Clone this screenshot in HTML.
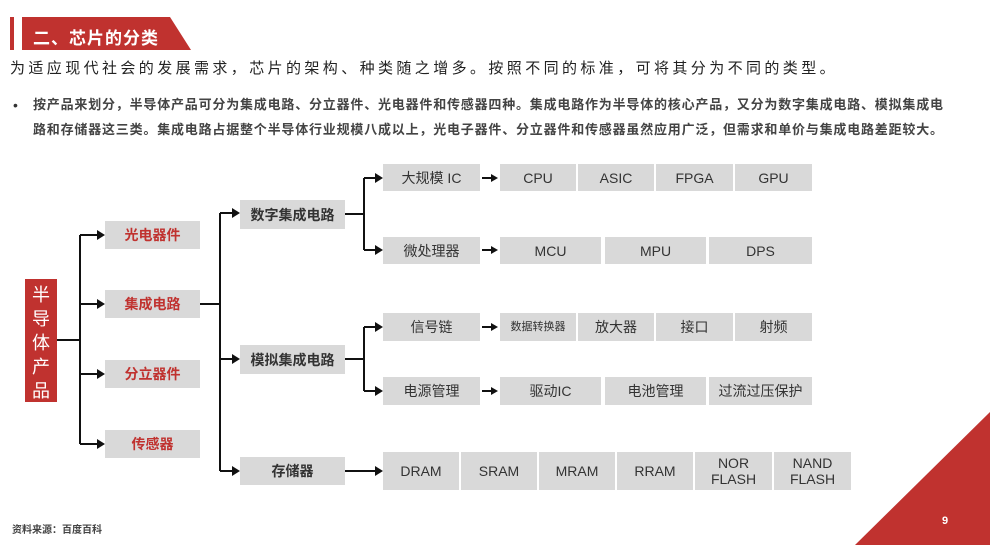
<!DOCTYPE html>
<html><head><meta charset="utf-8"><style>
*{margin:0;padding:0;box-sizing:border-box}
body{width:993px;height:555px;background:#fff;position:relative;overflow:hidden;font-family:"Liberation Sans","Noto Sans CJK SC",sans-serif;color:#333}
.a{position:absolute}
.b{position:absolute;background:#d9d9d9;display:flex;align-items:center;justify-content:center;text-align:center;font-size:14px;color:#333;line-height:16px}
.r{color:#c0322f;font-weight:bold}
.k{font-weight:bold}
</style></head><body>
<div class="a" style="left:10px;top:17px;width:4px;height:33px;background:#c0322f"></div>
<svg class="a" style="left:0;top:0" width="993" height="555">
<polygon points="22,17 170,17 191,50 22,50" fill="#c0322f"/>
<polygon points="855,545 990,412 990,545" fill="#c0322f"/>
<g stroke="#111" stroke-width="2" fill="none">
<path d="M57,340H80M80,235V444M80,235H98M80,304H98M80,374H98M80,444H98"/>
<path d="M200,304H220M220,213V471M220,213H233M220,359H233M220,471H233"/>
<path d="M345,214H364M364,178V250M364,178H376M364,250H376"/>
<path d="M345,359H364M364,327V391M364,327H376M364,391H376"/>
<path d="M345,471H376"/>
<path d="M482,178H492M482,250H492M482,327H492M482,391H492"/>
</g>
<g fill="#111">
<path d="M105,235l-8,-5v10z"/><path d="M105,304l-8,-5v10z"/><path d="M105,374l-8,-5v10z"/><path d="M105,444l-8,-5v10z"/>
<path d="M240,213l-8,-5v10z"/><path d="M240,359l-8,-5v10z"/><path d="M240,471l-8,-5v10z"/>
<path d="M383,178l-8,-5v10z"/><path d="M383,250l-8,-5v10z"/><path d="M383,327l-8,-5v10z"/><path d="M383,391l-8,-5v10z"/><path d="M383,471l-8,-5v10z"/>
<path d="M498,178l-7,-4v8z"/><path d="M498,250l-7,-4v8z"/><path d="M498,327l-7,-4v8z"/><path d="M498,391l-7,-4v8z"/>
</g>
</svg>
<div class="a" style="left:33px;top:24px;font-size:17px;font-weight:bold;color:#fff;letter-spacing:1px">二、芯片的分类</div>
<div class="a" style="left:10px;top:57px;font-size:15px;letter-spacing:3.4px;color:#222">为适应现代社会的发展需求，芯片的架构、种类随之增多。按照不同的标准，可将其分为不同的类型。</div>
<div class="a" style="left:13px;top:97px;font-size:14px;color:#333">•</div>
<div class="a" style="left:33px;top:92px;width:940px;font-size:13px;line-height:25px;letter-spacing:0.8px;color:#444;font-weight:bold">按产品来划分，半导体产品可分为集成电路、分立器件、光电器件和传感器四种。集成电路作为半导体的核心产品，又分为数字集成电路、模拟集成电<br>路和存储器这三类。集成电路占据整个半导体行业规模八成以上，光电子器件、分立器件和传感器虽然应用广泛，但需求和单价与集成电路差距较大。</div>
<div class="a" style="left:25px;top:279px;width:32px;height:123px;background:#c0322f;color:#fff;font-size:18px;line-height:24px;text-align:center;padding-top:4px">半<br>导<br>体<br>产<br>品</div>
<div class="b r" style="left:105px;top:221px;width:95px;height:28px">光电器件</div>
<div class="b r" style="left:105px;top:290px;width:95px;height:28px">集成电路</div>
<div class="b r" style="left:105px;top:360px;width:95px;height:28px">分立器件</div>
<div class="b r" style="left:105px;top:430px;width:95px;height:28px">传感器</div>
<div class="b k" style="left:240px;top:200px;width:105px;height:29px">数字集成电路</div>
<div class="b k" style="left:240px;top:345px;width:105px;height:29px">模拟集成电路</div>
<div class="b k" style="left:240px;top:457px;width:105px;height:28px">存储器</div>
<div class="b" style="left:383px;top:164px;width:97px;height:27px">大规模 IC</div>
<div class="b" style="left:383px;top:237px;width:97px;height:27px">微处理器</div>
<div class="b" style="left:383px;top:313px;width:97px;height:28px">信号链</div>
<div class="b" style="left:383px;top:377px;width:97px;height:28px">电源管理</div>
<div class="b" style="left:500px;top:164px;width:76px;height:27px">CPU</div>
<div class="b" style="left:578px;top:164px;width:76px;height:27px">ASIC</div>
<div class="b" style="left:656px;top:164px;width:77px;height:27px">FPGA</div>
<div class="b" style="left:735px;top:164px;width:77px;height:27px">GPU</div>
<div class="b" style="left:500px;top:237px;width:101px;height:27px">MCU</div>
<div class="b" style="left:605px;top:237px;width:101px;height:27px">MPU</div>
<div class="b" style="left:709px;top:237px;width:103px;height:27px">DPS</div>
<div class="b" style="left:500px;top:313px;width:76px;height:28px;font-size:11px">数据转换器</div>
<div class="b" style="left:578px;top:313px;width:76px;height:28px">放大器</div>
<div class="b" style="left:656px;top:313px;width:77px;height:28px">接口</div>
<div class="b" style="left:735px;top:313px;width:77px;height:28px">射频</div>
<div class="b" style="left:500px;top:377px;width:101px;height:28px">驱动IC</div>
<div class="b" style="left:605px;top:377px;width:101px;height:28px">电池管理</div>
<div class="b" style="left:709px;top:377px;width:103px;height:28px">过流过压保护</div>
<div class="b" style="left:383px;top:452px;width:76px;height:38px">DRAM</div>
<div class="b" style="left:461px;top:452px;width:76px;height:38px">SRAM</div>
<div class="b" style="left:539px;top:452px;width:76px;height:38px">MRAM</div>
<div class="b" style="left:617px;top:452px;width:76px;height:38px">RRAM</div>
<div class="b" style="left:695px;top:452px;width:77px;height:38px">NOR<br>FLASH</div>
<div class="b" style="left:774px;top:452px;width:77px;height:38px">NAND<br>FLASH</div>
<div class="a" style="left:12px;top:521px;font-size:10px;font-weight:bold;color:#444">资料来源：百度百科</div>
<div class="a" style="left:942px;top:515px;font-size:11px;font-weight:bold;color:#fff">9</div>
</body></html>
